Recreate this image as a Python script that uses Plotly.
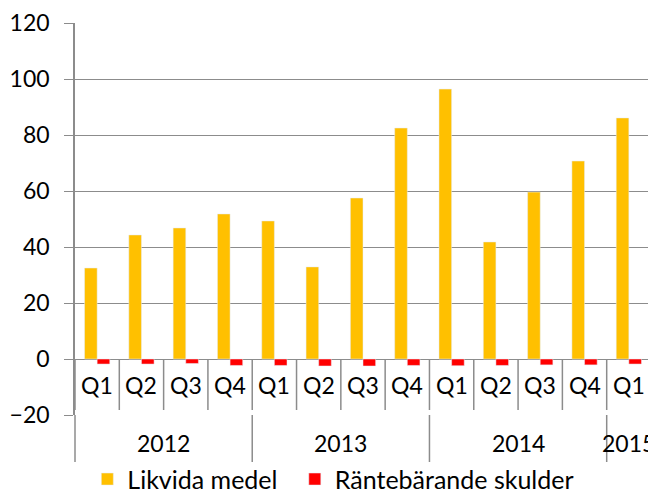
import plotly.graph_objects as go

quarters = ["Q1", "Q2", "Q3", "Q4", "Q1", "Q2", "Q3", "Q4", "Q1", "Q2", "Q3", "Q4", "Q1"]
years = ["2012", "2013", "2014", "2015"]
year_counts = [4, 4, 4, 1]
likvida = [32.5, 44.3, 46.8, 51.8, 49.3, 32.9, 57.5, 82.5, 96.4, 41.8, 59.6, 70.7, 86.1]
skulder = [-1.8, -1.8, -1.6, -2.3, -2.3, -2.5, -2.5, -2.3, -2.4, -2.3, -2.1, -2.1, -1.8]

FONT = "Lato"
FS = 23
LFS = 25
GRID = "#8c8c8c"
n = len(quarters)
x = list(range(n))

fig = go.Figure()
fig.add_trace(go.Bar(x=x, y=likvida, name="Likvida medel", marker_color="#FFC000", legend="legend"))
fig.add_trace(go.Bar(x=x, y=skulder, name="Räntebärande skulder", marker_color="#FF0000", legend="legend2"))

PH = 392.0  # plot height in px
shapes = []
y0p = 20 / 140          # zero line in paper coords
qbot = y0p - 51 / PH    # bottom of quarter row
ybot = -47 / PH         # bottom of year row
for i in range(n + 1):
    xp = i / n
    shapes.append(dict(type="line", xref="paper", yref="paper", x0=xp, x1=xp, y0=y0p, y1=qbot,
                       line=dict(color=GRID, width=1.5)))
bounds = [0]
for c in year_counts:
    bounds.append(bounds[-1] + c)
for bnd in bounds:
    xp = bnd / n
    shapes.append(dict(type="line", xref="paper", yref="paper", x0=xp, x1=xp, y0=0, y1=ybot,
                       line=dict(color=GRID, width=1.5)))

annotations = []
for i, q in enumerate(quarters):
    annotations.append(dict(x=i, y=y0p - 26 / PH, xref="x", yref="paper", text=q, showarrow=False,
                            font=dict(family=FONT, size=FS, color="black"), xanchor="center", yanchor="middle"))
for j, yr in enumerate(years):
    cx = (bounds[j] + bounds[j + 1]) / 2 - 0.5
    annotations.append(dict(x=cx, y=-28 / PH, xref="x", yref="paper", text=yr, showarrow=False,
                            font=dict(family=FONT, size=FS, color="black"), xanchor="center", yanchor="middle"))

leg_common = dict(orientation="h", xanchor="left", y=-0.164, yanchor="middle",
                  font=dict(family=FONT, size=LFS, color="black"), bgcolor="rgba(0,0,0,0)")

fig.update_layout(
    width=648, height=485,
    margin=dict(l=67, r=5, t=15, b=78, autoexpand=False),
    plot_bgcolor="white", paper_bgcolor="white",
    barmode="group", bargap=0.43, bargroupgap=0,
    font=dict(family=FONT, size=FS, color="black"),
    xaxis=dict(range=[-0.5, n - 0.5], showticklabels=False, showgrid=False, zeroline=False,
               showline=False, ticks="", automargin=False),
    yaxis=dict(range=[-20, 120], dtick=20, tick0=0, showgrid=True, gridcolor=GRID, gridwidth=1.3,
               zeroline=True, zerolinecolor=GRID, zerolinewidth=1.3,
               showline=True, linecolor=GRID, linewidth=1.5,
               ticks="outside", ticklen=9, tickcolor=GRID, tickwidth=1.3,
               ticklabelstandoff=10, automargin=False,
               tickfont=dict(family=FONT, size=FS, color="black")),
    showlegend=True,
    legend=dict(x=0.0214, **leg_common),
    legend2=dict(x=0.3816, **leg_common),
    shapes=shapes, annotations=annotations,
)

fig.write_html("out.html")
